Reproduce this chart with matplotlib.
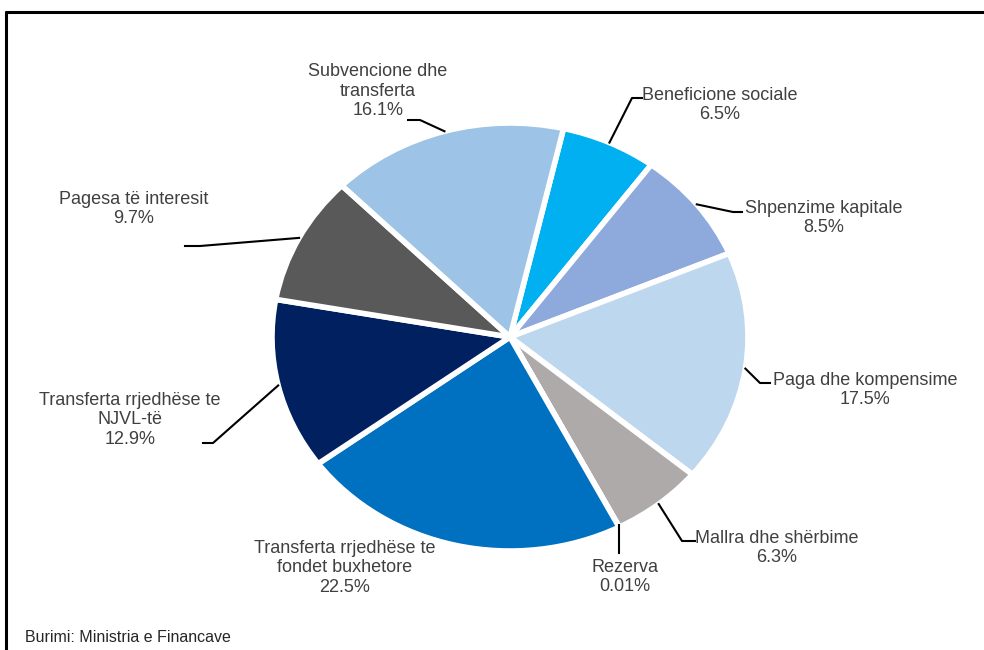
import numpy as np
import matplotlib
matplotlib.use("Agg")
import matplotlib.pyplot as plt

plt.rcParams['font.family'] = ['Liberation Sans', 'DejaVu Sans']

# ---- data ----
categories = ["Beneficione sociale", "Shpenzime kapitale", "Paga dhe kompensime",
              "Mallra dhe shërbime", "Rezerva", "Transferta rrjedhëse te\nfondet buxhetore",
              "Transferta rrjedhëse te\nNJVL-të", "Pagesa të interesit",
              "Subvencione dhe\ntransferta"]
values = [6.5, 8.5, 17.5, 6.3, 0.01, 22.5, 12.9, 9.7, 16.1]
value_labels = ["6.5%", "8.5%", "17.5%", "6.3%", "0.01%", "22.5%", "12.9%", "9.7%", "16.1%"]
colors = ["#00B0F0", "#8EA9DB", "#BDD7EE", "#AEAAAA", "#A5A5A5", "#0070C0",
          "#002060", "#595959", "#9DC3E6"]
source = "Burimi: Ministria e Financave"

# ---- layout (pixel coords, top-left origin) ----
W, H = 984, 650
cx, cy, rx, ry = 510, 337, 238, 214
start_angle = 77
label_pos = [(720, 105), (824, 218), (865, 390), (777, 548), (625, 577),
             (345, 568), (130, 420), (134, 209), (378, 91)]
# leader: (text-end point, elbow point) ; None = no leader ; 'v' = vertical
leaders = [((642, 98), (632, 98)),
           ((742, 212), (733, 212)),
           ((770, 383), (760, 383)),
           ((695, 541), (682, 541)),
           'v',
           None,
           ((203, 443), (213, 443)),
           ((185, 246), (200, 246)),
           ((408, 120), (420, 120))]

fig = plt.figure(figsize=(W / 100, H / 100), dpi=100)
fig.patch.set_facecolor('white')

pie_ax = fig.add_axes([(cx - rx) / W, (H - cy - ry) / H, 2 * rx / W, 2 * ry / H])
wedges, _ = pie_ax.pie(values, colors=colors, startangle=start_angle, counterclock=False,
                       radius=1, wedgeprops=dict(edgecolor='white', linewidth=4))
for w in wedges:
    w.set_clip_on(False)
pie_ax.set_xlim(-1, 1)
pie_ax.set_ylim(-1, 1)
pie_ax.set_aspect('auto')
pie_ax.axis('off')

ov = fig.add_axes([0, 0, 1, 1])
ov.set_xlim(0, W)
ov.set_ylim(H, 0)
ov.axis('off')

# frame (top and left edges visible)
ov.plot([5, W], [12, 12], color='black', lw=2.2, solid_capstyle='butt')
ov.plot([6, 6], [11, H], color='black', lw=2.2, solid_capstyle='butt')

fig.canvas.draw()
to_ov = ov.transData.inverted()

total = sum(values)
cum = np.cumsum([0] + values)
text_color = '#404040'
for i, (cat, vl) in enumerate(zip(categories, value_labels)):
    mid = (cum[i] + cum[i + 1]) / 2 / total
    ang = np.deg2rad(start_angle - 360 * mid)
    px = pie_ax.transData.transform((np.cos(ang), np.sin(ang)))
    wx, wy = to_ov.transform(px)
    lx, ly = label_pos[i]
    ov.text(lx, ly, cat + "\n" + vl, ha='center', va='center', fontsize=13,
            color=text_color, linespacing=1.2, multialignment='center')
    ld = leaders[i]
    if ld is None:
        continue
    if ld == 'v':
        ov.plot([wx, wx], [wy - 2, 553], color='black', lw=1.5)
    else:
        (x0, y0), (x1, y1) = ld
        ov.plot([x0, x1, wx], [y0, y1, wy], color='black', lw=1.5)

ov.text(25, 637, source, ha='left', va='center', fontsize=11.5, color='#262626')

fig.savefig("out.png", dpi=100)
